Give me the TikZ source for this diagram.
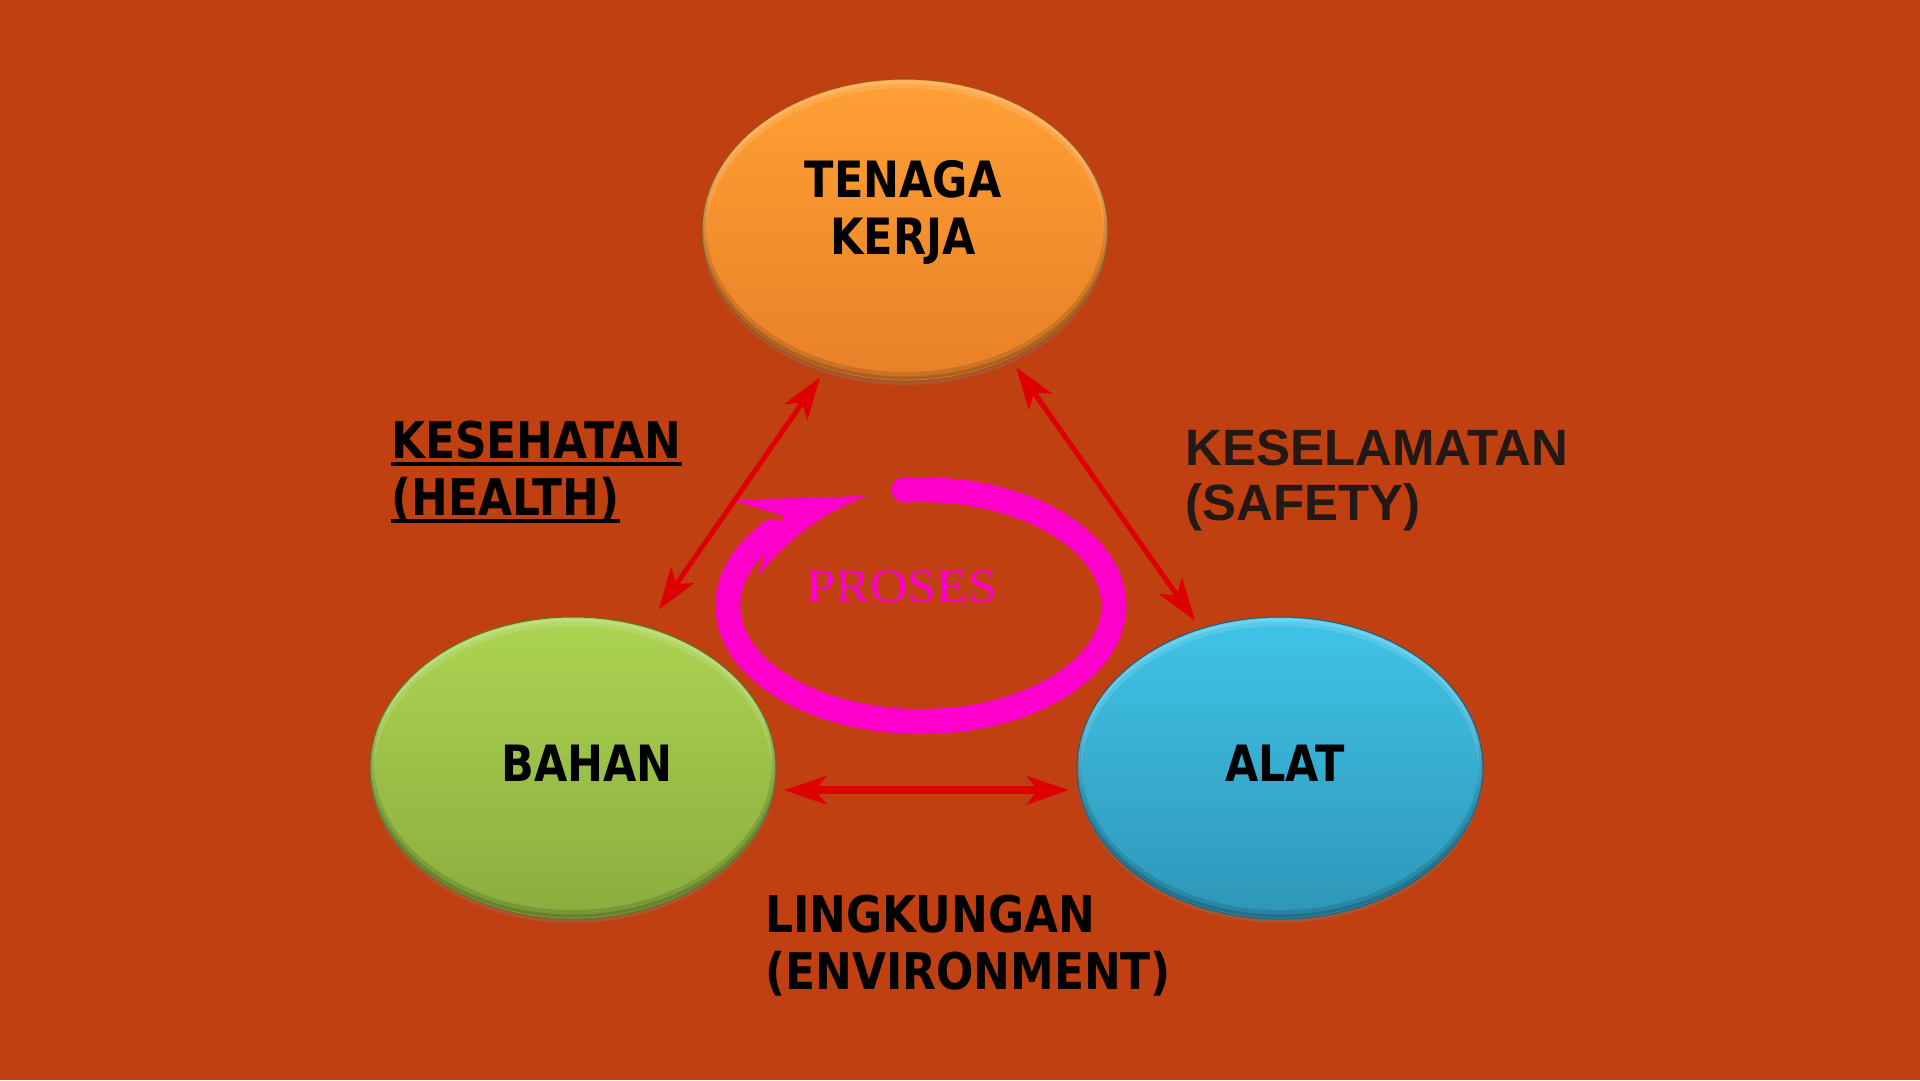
\documentclass[tikz,border=0pt]{standalone}
\usepackage{fontspec}
\usetikzlibrary{shapes.geometric,arrows.meta,shadows}
\newfontfamily\tah[FakeStretch=0.86]{DejaVu Sans}
\newfontfamily\tahl[FakeStretch=0.87]{DejaVu Sans}
\newfontfamily\ari{Liberation Sans}
\newfontfamily\tms[FakeStretch=1.09]{Liberation Serif}
\definecolor{bgc}{RGB}{192,64,17}
\definecolor{redc}{RGB}{222,0,0}
\definecolor{magc}{RGB}{255,0,204}
\definecolor{orT}{RGB}{255,160,52}
\definecolor{orB}{RGB}{232,128,40}
\definecolor{orR}{RGB}{150,85,25}
\definecolor{grT}{RGB}{172,212,82}
\definecolor{grB}{RGB}{138,172,62}
\definecolor{grR}{RGB}{95,115,35}
\definecolor{blT}{RGB}{64,196,232}
\definecolor{blB}{RGB}{46,150,184}
\definecolor{blR}{RGB}{30,95,125}
\definecolor{safc}{RGB}{35,25,20}
\newcommand\myul[1]{\setbox0\hbox{#1}\rlap{\rule[-8pt]{\wd0}{4pt}}\box0}
\tikzset{
  blob/.style={ellipse, inner sep=0pt, outer sep=10pt, minimum width=406pt, minimum height=302pt,
    line width=1pt, drop shadow={shadow xshift=0pt, shadow yshift=-4pt, opacity=0.3},
    path picture={
      \draw[white, opacity=0.12, line width=8pt] ([yshift=-5pt]path picture bounding box.center) ellipse[x radius=203pt, y radius=151pt];
      \draw[white, opacity=0.15, line width=3pt] ([yshift=-3pt]path picture bounding box.center) ellipse[x radius=203pt, y radius=151pt];
      \draw[black, opacity=0.12, line width=8pt] ([yshift=5pt]path picture bounding box.center) ellipse[x radius=203pt, y radius=151pt];
      \draw[black, opacity=0.15, line width=3pt] ([yshift=3pt]path picture bounding box.center) ellipse[x radius=203pt, y radius=151pt];
    }},
  bigtext/.style={font=\tah\bfseries\fontsize{50}{57}\selectfont, text=black, inner sep=0pt},
  labtext/.style={font=\tahl\bfseries\fontsize{50.5}{57}\selectfont, text=black, inner sep=0pt, anchor=base west},
  redarr/.style={draw=redc, line width=5pt, {Stealth[length=42pt,width=28pt,inset=11pt]}-{Stealth[length=42pt,width=28pt,inset=11pt]}},
}
\begin{document}
\begin{tikzpicture}[x=1pt,y=-1pt]
\fill[bgc] (0,0) rectangle (1920,1080);
\useasboundingbox (0,0) rectangle (1920,1080);
% ellipses
\node[blob, top color=orT, bottom color=orB, draw=orR] (tk) at (905,230) {};
\node[blob, top color=grT, bottom color=grB, draw=grR] (bh) at (573,768) {};
\node[blob, top color=blT, bottom color=blB, draw=blR] (al) at (1280,768) {};
% texts in ellipses
\node[bigtext, anchor=base] (tkt) at (903,197) {\begin{tabular}[t]{@{}c@{}}TENAGA\\KERJA\end{tabular}};
\node[bigtext, anchor=base] (bht) at (587,781) {BAHAN};
\node[bigtext, anchor=base] (alt) at (1285,781) {ALAT};
% process ring
\draw[magc, line width=25pt, line cap=round] (904,490) arc[start angle=-95, end angle=220, x radius=193, y radius=116];
\fill[magc] (866,496) -- (732,500) -- (784,516) -- (768,545) -- (757,578) .. controls (785,540) and (825,512) .. cycle;
\node[font=\tms\fontsize{48}{56}\selectfont, text=magc, inner sep=0pt, anchor=base] (pr) at (902,602) {PROSES};
% red arrows
\draw[redarr, shorten <=11pt] (bh.62) -- (tk.-120);
\draw[redarr] (tk.-51) -- (al.120);
\draw[redarr, line width=8pt] (bh.-6) -- (al.-174);
% labels
\node[labtext] (kes) at (391,458) {\begin{tabular}[t]{@{}l@{}}\myul{KESEHATAN}\\\myul{(HEALTH)}\end{tabular}};
\node[font=\ari\bfseries\fontsize{51}{55}\selectfont, text=safc, inner sep=0pt, anchor=base west] (kel) at (1185,465) {\begin{tabular}[t]{@{}l@{}}KESELAMATAN\\(SAFETY)\end{tabular}};
\node[labtext] (lin) at (765,932) {\begin{tabular}[t]{@{}l@{}}LINGKUNGAN\\(ENVIRONMENT)\end{tabular}};
\end{tikzpicture}
\end{document}
